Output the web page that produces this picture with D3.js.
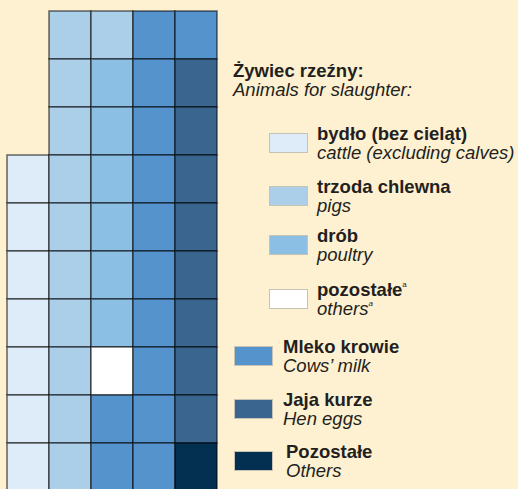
<!DOCTYPE html>
<html>
<head>
<meta charset="utf-8">
<script src="https://cdn.jsdelivr.net/npm/d3@7"></script>
<style>
  html, body { margin: 0; padding: 0; background: #fef1d1; }
  svg { display: block; font-family: "Liberation Sans", Arial, sans-serif; }
</style>
</head>
<body>
<div id="chart"></div>
<script>
// cells per category (each cell = one share of the total), filled column by column, top down
var categories = ["cattle", "pigs", "poultry", "othersA", "milk", "eggs", "others"];
var cellCounts = [7, 11, 6, 1, 13, 8, 1];
var emptyCells = 3;
var nCols = 5, nRows = 10;

var colors = ["#deebf8", "#abcfe9", "#8cbfe4", "#ffffff", "#5493cc", "#3a658f", "#032f51"];

var labelsPl = ["bydło (bez cieląt)", "trzoda chlewna", "drób", "pozostałe", "Mleko krowie", "Jaja kurze", "Pozostałe"];
var labelsEn = ["cattle (excluding calves)", "pigs", "poultry", "others", "Cows\u2019 milk", "Hen eggs", "Others"];
var titlePl = "Żywiec rzeźny:";
var titleEn = "Animals for slaughter:";

var width = 518, height = 489;

var svg = d3.select("#chart").append("svg")
  .attr("width", width)
  .attr("height", height);

// build cell list
var cells = [];
var idx = emptyCells;
categories.forEach(function(c, i) {
  for (var k = 0; k < cellCounts[i]; k++) {
    cells.push({ cat: c, color: colors[i], col: Math.floor(idx / nRows), row: idx % nRows });
    idx++;
  }
});

var xScale = d3.scaleBand().domain(d3.range(nCols)).range([7, 217]);
var yScale = d3.scaleBand().domain(d3.range(nRows)).range([11, 491]);

svg.append("g")
  .selectAll("rect")
  .data(cells)
  .enter()
  .append("rect")
    .attr("x", d => xScale(d.col))
    .attr("y", d => yScale(d.row))
    .attr("width", xScale.bandwidth())
    .attr("height", yScale.bandwidth())
    .attr("fill", d => d.color)
    .attr("stroke", "rgba(0,0,0,0.55)")
    .attr("stroke-width", 1.6);

// legend
var textColor = "#231f20";
var fs = 18.5;

svg.append("text")
  .attr("x", 233).attr("y", 77)
  .attr("fill", textColor)
  .style("font-size", fs + "px").style("font-weight", "bold")
  .text(titlePl);
svg.append("text")
  .attr("x", 233).attr("y", 96)
  .attr("fill", textColor)
  .style("font-size", fs + "px").style("font-style", "italic")
  .text(titleEn);

var legendY = [133, 186, 235, 289, 346, 399, 451];
var swatchX = [269, 269, 269, 269, 234, 234, 234];
var textX = [317, 317, 317, 317, 283, 283, 286];

var items = svg.append("g")
  .selectAll("g")
  .data(categories)
  .enter()
  .append("g");

items.append("rect")
  .attr("x", (d, i) => swatchX[i] + 0.5)
  .attr("y", (d, i) => legendY[i] + 0.5)
  .attr("width", 38)
  .attr("height", 19)
  .attr("fill", (d, i) => colors[i])
  .attr("stroke", "#c8c2b4")
  .attr("stroke-width", 1);

var pl = items.append("text")
  .attr("x", (d, i) => textX[i])
  .attr("y", (d, i) => legendY[i] + 7)
  .attr("fill", textColor)
  .style("font-size", fs + "px").style("font-weight", "bold")
  .text((d, i) => labelsPl[i]);

var en = items.append("text")
  .attr("x", (d, i) => textX[i])
  .attr("y", (d, i) => legendY[i] + 26)
  .attr("fill", textColor)
  .style("font-size", fs + "px").style("font-style", "italic")
  .text((d, i) => labelsEn[i]);

// superscript a for "pozostałe / others"
[pl, en].forEach(function(sel) {
  sel.filter(d => d == "othersA")
    .append("tspan")
    .attr("dy", -9)
    .style("font-size", "8px")
    .style("font-weight", "normal")
    .text("a");
});
</script>
</body>
</html>
